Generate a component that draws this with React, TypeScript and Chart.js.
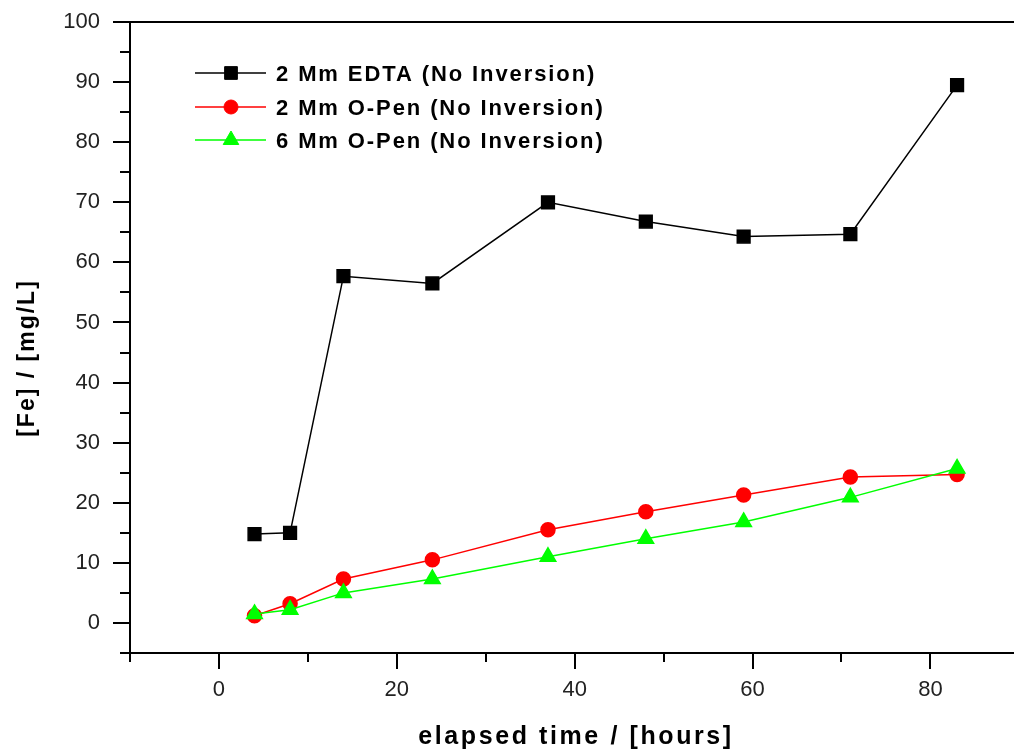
import React, { useEffect, useRef } from 'react';
import { Chart, registerables } from 'chart.js';
import { drawPoint } from 'chart.js/helpers';

Chart.register(...registerables);

const hours = [4, 8, 14, 24, 37, 48, 59, 71, 83];
const edta2mm = [14.8, 15.0, 57.7, 56.5, 70.0, 66.8, 64.3, 64.7, 89.5];
const oPen2mm = [1.2, 3.2, 7.3, 10.5, 15.5, 18.5, 21.3, 24.3, 24.7];
const oPen6mm = [1.5, 2.2, 5.0, 7.3, 11.0, 14.0, 16.8, 20.9, 25.7];

const seriesLabels = [
  '2 Mm EDTA (No Inversion)',
  '2 Mm O-Pen (No Inversion)',
  '6 Mm O-Pen (No Inversion)',
];

const xMajorTicks = [0, 20, 40, 60, 80];
const xMinorTicks = [-10, 10, 30, 50, 70, 90];
const yMajorTicks = [0, 10, 20, 30, 40, 50, 60, 70, 80, 90, 100];
const yMinorTicks = [-5, 5, 15, 25, 35, 45, 55, 65, 75, 85, 95];

const xTitle = 'elapsed time / [hours]';
const yTitle = '[Fe] / [mg/L]';

const toPoints = (ys: number[]) => hours.map((x, i) => ({ x, y: ys[i] }));

const decorPlugin = {
  id: 'decor',
  afterDraw(chart: any) {
    const { ctx, chartArea, scales, width } = chart;
    const xs = scales.x;
    const ys = scales.y;
    ctx.save();
    ctx.strokeStyle = '#000';
    ctx.lineWidth = 2;
    // top frame line
    ctx.beginPath();
    ctx.moveTo(chartArea.left - 1, chartArea.top);
    ctx.lineTo(width, chartArea.top);
    ctx.stroke();
    // ticks
    const drawXTick = (v: number, len: number) => {
      const p = Math.round(xs.getPixelForValue(v));
      if (p > width) return;
      ctx.beginPath();
      ctx.moveTo(p, chartArea.bottom);
      ctx.lineTo(p, chartArea.bottom + len);
      ctx.stroke();
    };
    const drawYTick = (v: number, len: number) => {
      const p = Math.round(ys.getPixelForValue(v));
      ctx.beginPath();
      ctx.moveTo(chartArea.left, p);
      ctx.lineTo(chartArea.left - len, p);
      ctx.stroke();
    };
    xMajorTicks.forEach((v) => drawXTick(v, 16));
    xMinorTicks.forEach((v) => drawXTick(v, 9));
    yMajorTicks.forEach((v) => drawYTick(v, 17));
    yMinorTicks.forEach((v) => drawYTick(v, 10));

    // axis titles
    ctx.fillStyle = '#000';
    ctx.font = 'bold 25px "Liberation Sans", Arial, sans-serif';
    (ctx as any).letterSpacing = '2.6px';
    ctx.textAlign = 'center';
    ctx.textBaseline = 'alphabetic';
    ctx.fillText(xTitle, 576, 744);

    ctx.save();
    ctx.translate(34, 358);
    ctx.rotate(-Math.PI / 2);
    ctx.font = 'bold 23px "Liberation Sans", Arial, sans-serif';
    (ctx as any).letterSpacing = '2px';
    ctx.fillText(yTitle, 0, 0);
    ctx.restore();

    // legend
    const rows = [73, 107, 140];
    chart.data.datasets.forEach((ds: any, i: number) => {
      const cy = rows[i];
      ctx.strokeStyle = ds.borderColor;
      ctx.lineWidth = 1.5;
      ctx.beginPath();
      ctx.moveTo(195, cy);
      ctx.lineTo(266, cy);
      ctx.stroke();
      ctx.fillStyle = ds.pointBackgroundColor;
      ctx.strokeStyle = ds.pointBorderColor;
      ctx.lineWidth = 1;
      drawPoint(ctx, { pointStyle: ds.pointStyle, radius: ds.pointRadius, borderWidth: 1, rotation: 0 } as any, 231, cy);
      ctx.fillStyle = '#000';
      ctx.font = 'bold 22px "Liberation Sans", Arial, sans-serif';
      (ctx as any).letterSpacing = '1.9px';
      ctx.textAlign = 'left';
      ctx.textBaseline = 'alphabetic';
      ctx.fillText(seriesLabels[i], 276, cy + 8);
    });
    (ctx as any).letterSpacing = '0px';
    ctx.restore();
  },
};

export default function App() {
  const ref = useRef<HTMLCanvasElement>(null);
  useEffect(() => {
    if (!ref.current) return;
    const tickFont = { family: '"Liberation Sans", Arial, sans-serif', size: 22 };
    const chart = new Chart(ref.current, {
      type: 'line',
      data: {
        datasets: [
          {
            label: seriesLabels[0],
            data: toPoints(edta2mm),
            borderColor: '#000000',
            backgroundColor: '#000000',
            pointBackgroundColor: '#000000',
            pointBorderColor: '#000000',
            pointStyle: 'rect',
            pointRadius: 9,
            borderWidth: 1.5,
            order: 2,
          },
          {
            label: seriesLabels[1],
            data: toPoints(oPen2mm),
            borderColor: '#ff0000',
            backgroundColor: '#ff0000',
            pointBackgroundColor: '#ff0000',
            pointBorderColor: '#ff0000',
            pointStyle: 'circle',
            pointRadius: 7,
            borderWidth: 1.5,
            order: 1,
          },
          {
            label: seriesLabels[2],
            data: toPoints(oPen6mm),
            borderColor: '#00ff00',
            backgroundColor: '#00ff00',
            pointBackgroundColor: '#00ff00',
            pointBorderColor: '#00ff00',
            pointStyle: 'triangle',
            pointRadius: 9,
            borderWidth: 1.5,
            order: 0,
          },
        ] as any,
      },
      options: {
        responsive: false,
        animation: false,
        devicePixelRatio: 1,
        layout: { autoPadding: false, padding: { top: 22, right: 0, left: 0, bottom: 0 } },
        plugins: {
          legend: { display: false },
          tooltip: { enabled: false },
          title: { display: false },
        },
        scales: {
          x: {
            type: 'linear',
            min: -10,
            max: 89.4,
            afterBuildTicks: (s: any) => {
              s.ticks = xMajorTicks.map((v) => ({ value: v }));
            },
            afterFit: (s: any) => {
              s.height = 100;
              s.paddingLeft = 0;
              s.paddingRight = 0;
              s.paddingTop = 0;
              s.paddingBottom = 0;
            },
            grid: { display: false, drawTicks: false },
            border: { display: true, color: '#000', width: 2 },
            ticks: { font: tickFont, color: '#222', padding: 24, maxRotation: 0 },
          },
          y: {
            type: 'linear',
            min: -5,
            max: 100,
            afterBuildTicks: (s: any) => {
              s.ticks = yMajorTicks.map((v) => ({ value: v }));
            },
            afterFit: (s: any) => {
              s.width = 130;
              s.paddingLeft = 0;
              s.paddingRight = 0;
              s.paddingTop = 0;
              s.paddingBottom = 0;
            },
            grid: { display: false, drawTicks: false },
            border: { display: true, color: '#000', width: 2 },
            ticks: { font: tickFont, color: '#222', padding: 30 },
          },
        },
      },
      plugins: [decorPlugin],
    });
    return () => chart.destroy();
  }, []);
  return (
    <div style={{ position: 'absolute', left: 0, top: 0, width: 1014, height: 753, background: '#fff' }}>
      <canvas ref={ref} width={1014} height={753} style={{ display: 'block' }} />
    </div>
  );
}
